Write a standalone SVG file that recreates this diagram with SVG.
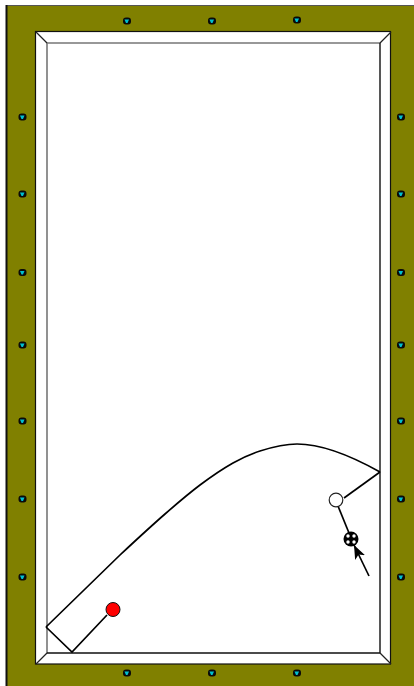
<svg xmlns="http://www.w3.org/2000/svg" width="414" height="686" viewBox="0 0 414 686">
<defs>
<g id="pocket"><rect x="-4" y="-3.500" width="8" height="7" rx="3" fill="#0a0a0a"/><path d="M-2.500 -1.500H2L0.500 2H-1Z" fill="#00c0d0"/></g>
<marker id="head" markerUnits="userSpaceOnUse" markerWidth="16" markerHeight="12" refX="14" refY="5.500" orient="auto"><path d="M0 0L14 5.500L0 11L3.500 5.500Z" fill="#000"/></marker>
</defs>
<style>
.cue{fill:none;stroke:#000;stroke-width:1.7}
.mitre{stroke:#222;stroke-width:1.300}
.dot{fill:#fff}
</style>
<rect width="414" height="686" fill="#fff"/>
<g id="table">
<rect x="6" y="5" width="408" height="681" fill="#808000"/>
<path d="M6.500 5.500H414" stroke="#555" stroke-width="1" fill="none"/>
<path d="M6.500 5V686" stroke="#111" stroke-width="2" fill="none"/>
<rect x="35.500" y="31.500" width="355" height="632.500" fill="#fff" stroke="#111" stroke-width="1.200"/>
<path d="M47 653V43H380" fill="none" stroke="#777" stroke-width="1.600"/>
<path d="M380 43V653H47" fill="none" stroke="#111" stroke-width="1.400"/>
<path class="mitre" d="M36 32L47 43M391 32L380 43M36 664L47 653M391 664L380 653"/>
</g>
<g id="pockets">
<use href="#pocket" x="127" y="21"/><use href="#pocket" x="212" y="21"/><use href="#pocket" x="297" y="20"/>
<use href="#pocket" x="127" y="673"/><use href="#pocket" x="212" y="673"/><use href="#pocket" x="297" y="673"/>
<use href="#pocket" x="22.500" y="117"/><use href="#pocket" x="22.500" y="194"/><use href="#pocket" x="22.500" y="272.500"/><use href="#pocket" x="22.500" y="345"/><use href="#pocket" x="22.500" y="421"/><use href="#pocket" x="22.500" y="499"/><use href="#pocket" x="22.500" y="577"/>
<use href="#pocket" x="401" y="117"/><use href="#pocket" x="401" y="194"/><use href="#pocket" x="401" y="272.500"/><use href="#pocket" x="401" y="345"/><use href="#pocket" x="401" y="421"/><use href="#pocket" x="401" y="499"/><use href="#pocket" x="401" y="577"/>
</g>
<g id="connectors">
<path class="cue" d="M46 627L120 555C135 541 150 527.100 165 514C176.700 503.800 188.300 493.800 200 485C211 476.800 222 469.200 233 463C242 457.900 251 453.900 260 451C272.300 447.100 285 444 297 444C325 444 355 458 380 472"/>
<path class="cue" d="M380 472L344 498"/>
<path class="cue" d="M46 627L72 652L107 615"/>
<path class="cue" d="M338 506L349 533"/>
<path class="cue" d="M369 576L354 545" marker-end="url(#head)"/>
</g>
<g id="red-ball"><circle cx="113" cy="609.500" r="7" fill="#f00" stroke="#111" stroke-width="1"/></g>
<g id="white-ball"><circle cx="336" cy="500" r="6.800" fill="#fff" stroke="#222" stroke-width="1.200"/></g>
<g id="ghost-ball"><circle cx="351" cy="539" r="7.500" fill="#000"/><circle class="dot" cx="348" cy="536" r="1.700"/><circle class="dot" cx="354" cy="536" r="1.700"/><circle class="dot" cx="348" cy="542" r="1.700"/><circle class="dot" cx="354" cy="542" r="1.700"/></g>
</svg>
